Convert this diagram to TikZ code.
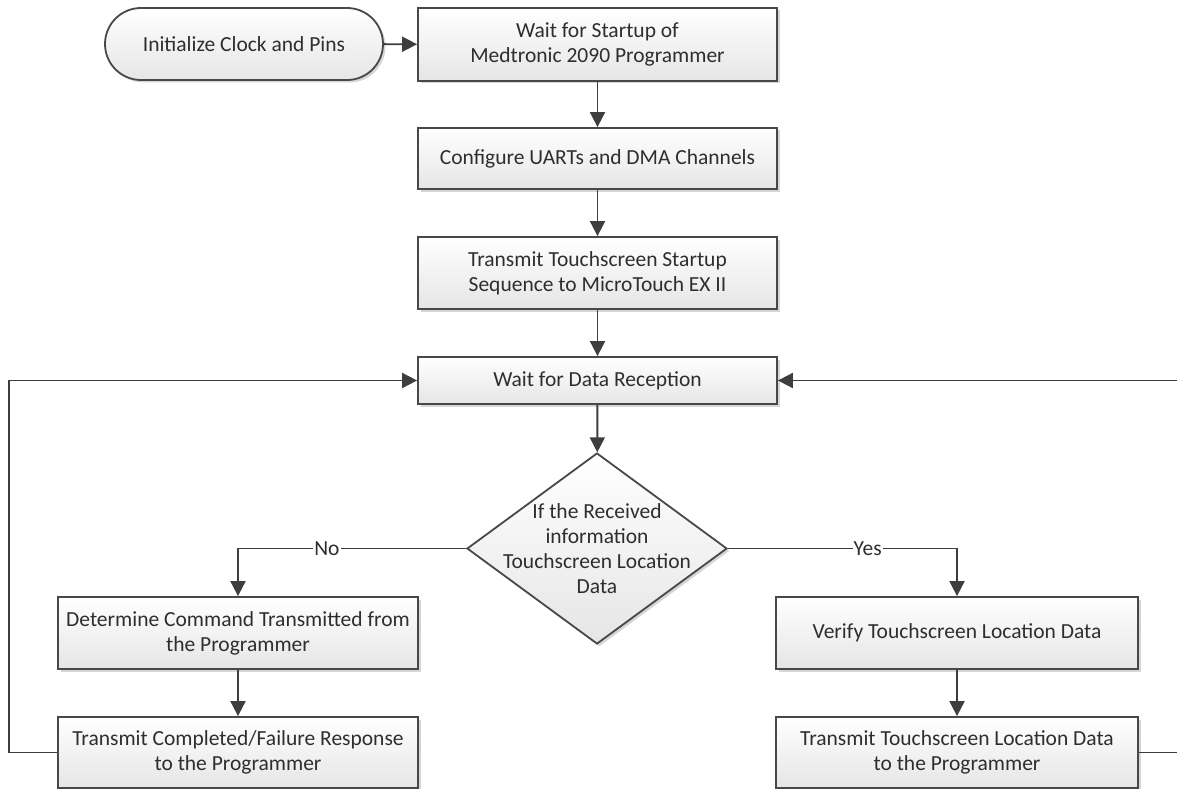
\documentclass[tikz,border=0pt]{standalone}
\usepackage{fontspec}
\setmainfont{Carlito}
\usetikzlibrary{arrows.meta,shapes.geometric,shadows}
\definecolor{ink}{HTML}{2E2E2E}
\definecolor{edge}{HTML}{484848}
\definecolor{wire}{HTML}{3E3E3E}
\begin{document}
\begin{tikzpicture}[x=1pt,y=-1pt,
  font=\fontsize{21.5}{25}\selectfont,
  shade base/.style={draw=edge, line width=1.8pt, top color=white, bottom color=black!10,
    drop shadow={shadow xshift=2.5pt, shadow yshift=-2.5pt, opacity=0.16, fill=black},
    text=ink, align=center, inner sep=0pt},
  stepbox/.style={shade base, rectangle},
  terminal/.style={shade base, rectangle, rounded corners=36pt},
  decision/.style={shade base, diamond},
  flow/.style={draw=wire, line width=1.9pt, -{Triangle[length=15pt,width=15pt]}},
  branch/.style={fill=white, inner sep=1pt, text=ink}
]
\useasboundingbox (0,0) rectangle (1177,789);
\clip (0,0) rectangle (1177,789);

% process steps
\node[terminal, minimum width=278pt, minimum height=72pt] (init) at (244,44) {Initialize Clock and Pins};
\node[stepbox, minimum width=359pt, minimum height=73pt] (startup) at (597.5,44.5) {Wait for Startup of\\Medtronic 2090 Programmer};
\node[stepbox, minimum width=359pt, minimum height=61pt] (config) at (597.5,158.5) {Configure UARTs and DMA Channels};
\node[stepbox, minimum width=359pt, minimum height=72pt] (tstart) at (597.5,273) {Transmit Touchscreen Startup\\Sequence to MicroTouch EX II};
\node[stepbox, minimum width=359pt, minimum height=47pt] (wait) at (597.5,380.5) {Wait for Data Reception};
\node[decision, minimum width=260pt, minimum height=191pt] (ask) at (597,548.5)
  {\smash{\makebox[0pt]{\raisebox{-8pt}{\begin{tabular}{@{}c@{}}If the Received\\information\\Touchscreen Location\\Data\end{tabular}}}}};
\node[stepbox, minimum width=360pt, minimum height=72pt] (det) at (238,633) {Determine Command Transmitted from\\the Programmer};
\node[stepbox, minimum width=360pt, minimum height=71pt] (tcomp) at (238,752.5) {Transmit Completed/Failure Response\\to the Programmer};
\node[stepbox, minimum width=362pt, minimum height=72pt] (verify) at (957,633) {Verify Touchscreen Location Data};
\node[stepbox, minimum width=362pt, minimum height=71pt] (tloc) at (957,752.5) {Transmit Touchscreen Location Data\\to the Programmer};

% return paths
\coordinate (lx) at (9,0);
\coordinate (rx) at (1200,0);

% connectors
\draw[flow] (init) -- (startup);
\draw[flow] (startup) -- (config);
\draw[flow] (config) -- (tstart);
\draw[flow] (tstart) -- (wait);
\draw[flow] (wait) -- (ask);
\draw[flow] (ask.west) -| node[branch, pos=0.305] {No} (det.north);
\draw[flow] (ask.east) -| node[branch, pos=0.305] {Yes} (verify.north);
\draw[flow] (det) -- (tcomp);
\draw[flow] (verify) -- (tloc);
\draw[flow] (tcomp.west) -| (lx |- wait.west) -- (wait.west);
\draw[flow] (tloc.east) -| (rx |- wait.east) -- (wait.east);
\end{tikzpicture}
\end{document}
